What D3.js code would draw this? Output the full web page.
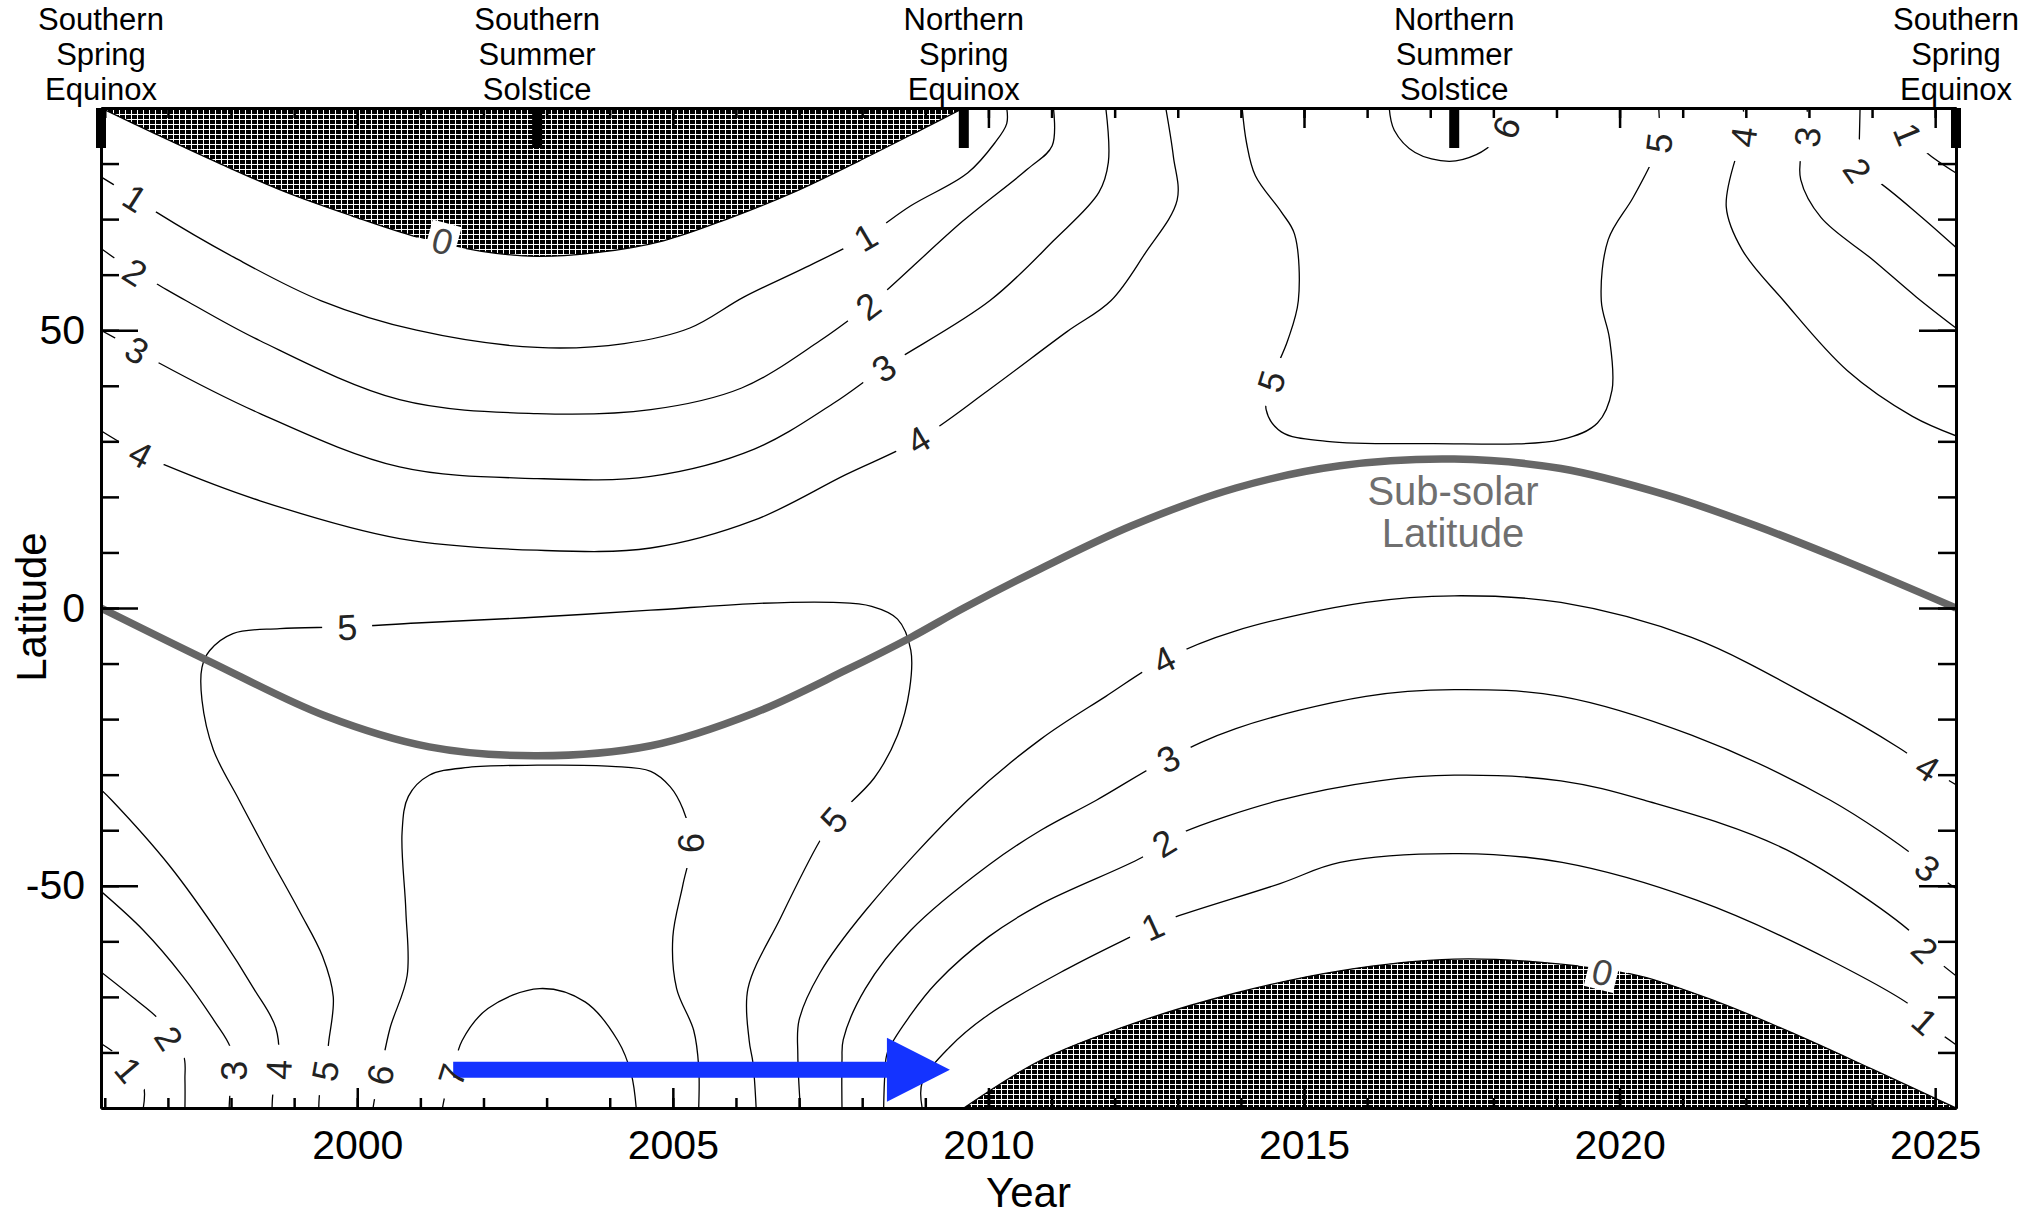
<!DOCTYPE html>
<html>
<head>
<meta charset="utf-8">
<script src="https://cdn.jsdelivr.net/npm/d3@7"></script>
<style>
  body { margin: 0; background: #fff; }
  svg { display: block; font-family: 'Liberation Sans', Arial, Helvetica, sans-serif; }
</style>
</head>
<body>
<svg id="chart"></svg>
<script>
// axes
let yearDomain = [1995.94, 2025.33]
let latDomain = [-90, 90]
let majorYears = [2000, 2005, 2010, 2015, 2020, 2025]
let minorYears = d3.range(1996, 2026)
let majorLats = [-50, 0, 50]
let minorLats = d3.range(-80, 90, 10)

// seasons marked on the top axis
let seasonYears = [1995.94, 2002.85, 2009.61, 2017.38, 2025.33]
let seasonNames = [
  ['Southern', 'Spring', 'Equinox'],
  ['Southern', 'Summer', 'Solstice'],
  ['Northern', 'Spring', 'Equinox'],
  ['Northern', 'Summer', 'Solstice'],
  ['Southern', 'Spring', 'Equinox']
]

// sub-solar latitude
let subsolarYears = [1995.94, 1997.64, 1999.49, 2001.14, 2002.85, 2004.65, 2006.29, 2007.74, 2008.77, 2009.61,
  2010.83, 2012.27, 2013.92, 2015.57, 2017.38, 2019.07, 2020.72, 2022.16, 2023.61, 2025.33]
let subsolarLats = [0, -9.5, -19.4, -25.0, -26.6, -24.8, -18.9, -11.2, -5.3, 0,
  7.1, 14.8, 21.6, 25.6, 26.8, 25.1, 20.4, 14.8, 8.3, 0]

// polar night (level 0), [year, latitude]
let hatchNorth = [[1995.94, 90], [1996.81, 85.3], [1997.84, 79.9], [1998.88, 74.8], [1999.91, 70.6], [2000.94, 66.8],
  [2001.97, 64.2], [2002.85, 63.3], [2003.82, 64.0], [2004.85, 66.1], [2005.88, 70.1], [2006.91, 74.8],
  [2007.94, 80.4], [2008.97, 86.3], [2009.61, 90]]
let hatchSouth = [[2009.61, -90], [2010.83, -81.4], [2012.27, -74.9], [2013.92, -69.3], [2015.57, -65.3],
  [2017.38, -63.2], [2019.07, -64.1], [2020.31, -66.2], [2021.55, -70.9], [2022.78, -76.7], [2024.02, -83.1],
  [2025.33, -90]]

// contour lines, [year, latitude]
let contour1NW = [[1995.94, 77.6], [1996.48, 73.8], [1996.81, 71.3], [1998.05, 63.1], [1999.43, 55.3], [2000.94, 50.0],
  [2002.85, 46.9], [2004.23, 47.6], [2005.27, 50.4], [2006.13, 56.0], [2007.12, 61.4], [2008.05, 66.8],
  [2008.77, 72.4], [2009.67, 78.3], [2010.10, 83.7], [2010.29, 87.2], [2010.29, 90]]
let contour2NW = [[1995.94, 64.7], [1996.48, 60.5], [1996.81, 58.4], [1997.29, 55.3], [1998.46, 48.1], [2000.67, 37.5],
  [2002.85, 35.0], [2004.65, 35.7], [2006.09, 39.6], [2007.33, 48.1], [2008.09, 54.4], [2008.34, 56.7],
  [2009.59, 69.6], [2010.62, 79.0], [2011.01, 83.2], [2011.03, 90]]
let contour3NW = [[1995.94, 50.0], [1996.51, 46.4], [1996.86, 44.1], [1998.46, 35.0], [2000.67, 25.4], [2002.85, 23.3],
  [2004.65, 23.7], [2006.29, 28.6], [2007.54, 36.8], [2008.34, 43.2], [2010.02, 55.3], [2011.03, 66.1],
  [2011.75, 74.8], [2011.90, 80.2], [2011.86, 90]]
let contour4NW = [[1995.94, 31.9], [1996.57, 27.7], [1996.94, 25.8], [1998.46, 19.3], [2000.67, 12.5], [2002.85, 10.4],
  [2004.65, 10.8], [2006.29, 15.8], [2007.74, 24.0], [2008.89, 30.3], [2010.00, 39.2], [2011.24, 49.7],
  [2011.94, 55.3], [2012.48, 63.8], [2012.99, 73.4], [2012.93, 81.3], [2012.81, 90]]
let contour5NE = [[2014.02, 90], [2014.09, 83.7], [2014.23, 77.8], [2014.64, 71.3], [2014.85, 67.3], [2014.91, 55.3],
  [2014.74, 48.1], [2014.48, 40.8], [2014.40, 35.7], [2014.64, 31.7], [2015.36, 30.0], [2017.01, 29.6],
  [2019.07, 30.3], [2019.65, 33.3], [2019.88, 39.2], [2019.84, 48.5], [2019.71, 55.3], [2019.82, 66.3],
  [2020.21, 73.8], [2020.52, 80.6], [2020.62, 83.7], [2020.62, 90]]
let contour6N = [[2016.35, 90], [2016.43, 86.0], [2016.76, 82.0], [2017.30, 80.4], [2017.73, 81.6], [2018.04, 84.1],
  [2018.20, 86.5], [2018.25, 90]]
let contour4NE = [[2021.96, 90], [2021.96, 84.8], [2021.86, 81.8], [2021.69, 72.2], [2021.94, 64.5], [2022.60, 55.3],
  [2023.61, 42.7], [2024.64, 34.5], [2025.33, 31.0]]
let contour3NE = [[2022.97, 90], [2022.97, 84.8], [2022.88, 81.8], [2022.87, 77.1], [2023.19, 70.3], [2024.02, 62.6],
  [2024.70, 56.0], [2025.33, 50.4]]
let contour2NE = [[2023.81, 90], [2023.79, 81.8], [2023.77, 78.8], [2024.10, 76.7], [2024.74, 70.8], [2025.33, 64.9]]
let contour1NE = [[2024.57, 90], [2024.57, 85.3], [2024.86, 82.0], [2025.33, 78.3]]
let contour1SW = [[1995.94, -78.4], [1996.22, -80.7], [1996.38, -83.1], [1996.61, -85.9], [1996.61, -90]]
let contour2SW = [[1995.94, -65.5], [1996.48, -70.4], [1996.90, -74.6], [1997.02, -77.4], [1997.25, -80.7],
  [1997.27, -84.9], [1997.27, -90]]
let contour3SW = [[1995.94, -51.0], [1996.61, -58.0], [1997.23, -66.2], [1997.74, -74.4], [1997.99, -79.1],
  [1998.05, -83.3], [1997.99, -86.8], [1997.97, -90]]
let contour4SW = [[1995.94, -32.7], [1996.11, -34.6], [1997.02, -46.3], [1997.84, -59.2], [1998.36, -68.5],
  [1998.71, -75.6], [1998.75, -83.1], [1998.67, -86.8], [1998.65, -90]]
let contour5S = [[1999.39, -90], [1999.41, -86.8], [1999.49, -83.3], [1999.55, -77.9], [1999.62, -70.0],
  [1999.45, -62.7], [1999.08, -54.5], [1998.57, -44.0], [1998.13, -34.6], [1997.72, -25.5], [1997.54, -16.6],
  [1997.54, -10.7], [1997.66, -7.7], [1998.03, -4.6], [1998.77, -3.7], [1999.84, -3.4], [2000.94, -2.7],
  [2002.59, -1.8], [2004.65, -0.4], [2006.29, 0.8], [2007.54, 1.0], [2008.15, 0.3], [2008.56, -2.0],
  [2008.77, -7.6], [2008.75, -14.7], [2008.56, -22.9], [2008.19, -30.6], [2007.55, -38.1], [2007.33, -41.9],
  [2006.71, -55.7], [2006.19, -68.5], [2006.21, -77.9], [2006.27, -81.9], [2006.32, -90]]
let contour6S = [[2000.25, -90], [2000.30, -86.8], [2000.36, -84.0], [2000.52, -75.6], [2000.79, -66.2],
  [2000.77, -54.5], [2000.71, -40.4], [2000.81, -33.9], [2001.14, -30.1], [2001.76, -28.7], [2002.85, -28.3],
  [2004.03, -28.5], [2004.65, -29.4], [2004.96, -32.2], [2005.16, -36.2], [2005.29, -42.3], [2005.16, -49.8],
  [2005.00, -59.2], [2005.06, -68.5], [2005.33, -76.0], [2005.41, -82.6], [2005.41, -90]]
let contour7S = [[2001.35, -90], [2001.41, -86.8], [2001.50, -84.0], [2001.66, -77.9], [2002.07, -72.1],
  [2002.89, -68.5], [2003.61, -70.9], [2004.13, -77.9], [2004.34, -83.8], [2004.42, -90]]
let contour4S = [[2007.02, -90], [2006.98, -80.3], [2007.00, -74.2], [2007.33, -65.7], [2008.05, -54.5],
  [2009.67, -34.6], [2010.83, -23.6], [2011.86, -15.9], [2012.78, -9.3], [2013.92, -4.1], [2015.98, 1.0],
  [2017.38, 2.2], [2019.07, 1.0], [2021.14, -5.3], [2023.19, -17.0], [2024.43, -25.2], [2024.88, -28.7],
  [2025.33, -31.8]]
let contour3S = [[2007.68, -90], [2007.68, -81.4], [2007.70, -77.7], [2008.05, -68.5], [2008.77, -58.0],
  [2010.00, -46.3], [2010.83, -40.0], [2011.71, -34.6], [2012.85, -27.1], [2013.92, -21.7], [2015.98, -15.9],
  [2017.38, -14.7], [2019.07, -15.9], [2021.14, -22.9], [2023.34, -34.6], [2024.70, -44.9], [2024.88, -46.8],
  [2025.33, -50.5]]
let contour2S = [[2008.34, -90], [2008.36, -83.8], [2008.40, -80.0], [2008.77, -73.2], [2009.18, -67.4],
  [2010.00, -59.2], [2010.83, -53.3], [2012.43, -44.9], [2012.78, -42.3], [2013.08, -40.4], [2014.62, -34.6],
  [2016.19, -31.1], [2017.38, -30.1], [2019.07, -31.1], [2020.39, -34.6], [2022.64, -43.5], [2024.70, -59.2],
  [2024.84, -61.5], [2025.33, -66.2]]
let contour1S = [[2008.95, -90], [2008.95, -85.4], [2009.38, -79.1], [2010.00, -73.2], [2011.24, -65.0],
  [2012.25, -59.2], [2012.60, -57.3], [2012.89, -55.9], [2014.62, -49.6], [2015.57, -45.8], [2017.46, -44.2],
  [2019.09, -45.8], [2021.22, -52.6], [2023.34, -63.4], [2024.70, -72.3], [2024.84, -74.4], [2025.33, -78.6]]

// contour labels: [level, year, latitude]
let contourLabels = [
  [1, 1996.48, 73.8], [2, 1996.48, 60.5], [3, 1996.51, 46.4], [4, 1996.57, 27.7],
  [0, 2001.35, 66.1], [1, 2008.05, 66.8], [2, 2008.09, 54.4], [3, 2008.34, 43.2], [4, 2008.89, 30.3],
  [5, 1999.84, -3.4], [5, 2014.48, 40.8], [6, 2018.20, 86.5], [5, 2020.62, 83.7],
  [4, 2021.96, 84.8], [3, 2022.97, 84.8], [2, 2023.77, 78.8], [1, 2024.57, 85.3],
  [6, 2005.29, -42.3], [5, 2007.55, -38.1],
  [4, 2012.78, -9.3], [3, 2012.85, -27.1], [2, 2012.78, -42.3], [1, 2012.60, -57.3], [0, 2019.73, -65.5],
  [4, 2024.88, -28.7], [3, 2024.88, -46.8], [2, 2024.84, -61.5], [1, 2024.84, -74.4],
  [1, 1996.38, -83.1], [2, 1997.02, -77.4], [3, 1998.05, -83.3], [4, 1998.75, -83.1],
  [5, 1999.49, -83.3], [6, 2000.36, -84.0], [7, 2001.50, -84.0]
]

// blue arrow
let arrowYears = [2001.52, 2009.39]
let arrowLat = -83.1

let contours = [
  {level: 0, points: hatchNorth}, {level: 0, points: hatchSouth},
  {level: 1, points: contour1NW}, {level: 2, points: contour2NW}, {level: 3, points: contour3NW},
  {level: 4, points: contour4NW}, {level: 5, points: contour5NE}, {level: 6, points: contour6N},
  {level: 4, points: contour4NE}, {level: 3, points: contour3NE}, {level: 2, points: contour2NE},
  {level: 1, points: contour1NE}, {level: 1, points: contour1SW}, {level: 2, points: contour2SW},
  {level: 3, points: contour3SW}, {level: 4, points: contour4SW}, {level: 5, points: contour5S},
  {level: 6, points: contour6S}, {level: 7, points: contour7S}, {level: 4, points: contour4S},
  {level: 3, points: contour3S}, {level: 2, points: contour2S}, {level: 1, points: contour1S}
]

let width = 2040
let height = 1215

let x = d3.scaleLinear().domain(yearDomain).range([101, 1956])
let y = d3.scaleLinear().domain(latDomain).range([1108, 108])

let svg = d3.select('#chart').attr('width', width).attr('height', height)
let defs = svg.append('defs')

defs.append('clipPath').attr('id', 'plotClip')
  .append('rect')
  .attr('x', x.range()[0]).attr('y', y.range()[1])
  .attr('width', x.range()[1] - x.range()[0])
  .attr('height', y.range()[0] - y.range()[1])

let pattern = defs.append('pattern')
  .attr('id', 'hatch')
  .attr('patternUnits', 'userSpaceOnUse')
  .attr('width', 6).attr('height', 5)
pattern.append('rect').attr('width', 6).attr('height', 5).attr('fill', '#fff')
pattern.append('rect').attr('width', 5).attr('height', 4).attr('fill', '#000')

let line = d3.line()
  .x(d => x(d[0]))
  .y(d => y(d[1]))
  .curve(d3.curveCatmullRom.alpha(0.5))

// angle of a contour at the label, in screen space
function labelAngle (label) {
  let best = null
  let bestDist = Infinity
  contours.filter(c => c.level === label[0]).forEach(function (c) {
    c.points.forEach(function (p, i) {
      let dist = Math.hypot(x(p[0]) - x(label[1]), y(p[1]) - y(label[2]))
      if (dist < bestDist) {
        bestDist = dist
        best = {pts: c.points, i: i}
      }
    })
  })
  let p0 = best.pts[Math.max(best.i - 1, 0)]
  let p1 = best.pts[Math.min(best.i + 1, best.pts.length - 1)]
  let a = Math.atan2(y(p1[1]) - y(p0[1]), x(p1[0]) - x(p0[0])) * 180 / Math.PI
  if (a > 90) a -= 180
  if (a <= -90) a += 180
  // steep lines read upwards
  if (a > 75) a -= 180
  return a
}

let labels = contourLabels.map(l => ({level: l[0], text: String(l[0]), px: x(l[1]), py: y(l[2]), angle: labelAngle(l)}))

// gaps in the lines under the labels
function labelMask (id, w, h, filter) {
  let m = defs.append('mask')
    .attr('id', id)
    .attr('maskUnits', 'userSpaceOnUse')
    .attr('x', 0).attr('y', 0).attr('width', width).attr('height', height)
  m.append('rect').attr('width', width).attr('height', height).attr('fill', '#fff')
  labels.filter(filter).forEach(function (l) {
    m.append('rect')
      .attr('x', -w / 2).attr('y', -h / 2)
      .attr('width', w).attr('height', h)
      .attr('fill', '#000')
      .attr('transform', `translate(${l.px},${l.py}) rotate(${l.angle})`)
  })
}
labelMask('labelGaps', 50, 38, l => true)
labelMask('nightGaps', 30, 36, l => l.level === 0)

let plot = svg.append('g').attr('clip-path', 'url(#plotClip)')

// polar night hatching
plot.append('g').attr('mask', 'url(#nightGaps)')
  .selectAll('path')
  .data([hatchNorth, hatchSouth])
  .join('path')
  .attr('d', d => line(d) + 'Z')
  .attr('fill', 'url(#hatch)')
  .attr('stroke', 'none')

let lines = plot.append('g').attr('mask', 'url(#labelGaps)')
lines.selectAll('path')
  .data(contours)
  .join('path')
  .attr('d', d => line(d.points))
  .attr('fill', 'none')
  .attr('stroke', '#000')
  .attr('stroke-width', 1.3)

// sub-solar latitude
let subsolar = subsolarYears.map((d, i) => [d, subsolarLats[i]])
plot.append('path')
  .attr('d', line(subsolar))
  .attr('fill', 'none')
  .attr('stroke', '#666')
  .attr('stroke-width', 7.5)

// arrow
{
  let x0 = x(arrowYears[0])
  let x1 = x(arrowYears[1])
  let ya = y(arrowLat)
  let head = 63
  svg.append('path')
    .attr('d', `M${x0},${ya - 8}L${x1 - head},${ya - 8}L${x1 - head},${ya - 32}L${x1},${ya}` +
      `L${x1 - head},${ya + 32}L${x1 - head},${ya + 8}L${x0},${ya + 8}Z`)
    .attr('fill', '#1433ff')
}

// contour labels
svg.append('g')
  .selectAll('text')
  .data(labels)
  .join('text')
  .attr('transform', d => `translate(${d.px},${d.py}) rotate(${d.angle})`)
  .attr('text-anchor', 'middle')
  .attr('dy', '0.36em')
  .attr('font-size', 36)
  .attr('fill', d => d.level === 0 ? '#444' : '#222')
  .text(d => d.text)

svg.append('text')
  .attr('x', 1453).attr('y', 505)
  .attr('text-anchor', 'middle')
  .attr('font-size', 40)
  .attr('fill', '#6f6f6f')
  .call(t => t.append('tspan').attr('x', 1453).text('Sub-solar'))
  .call(t => t.append('tspan').attr('x', 1453).attr('dy', 42).text('Latitude'))

// axes
function styleAxis (g) {
  g.selectAll('path').attr('stroke', '#000').attr('stroke-width', 3)
  g.selectAll('line').attr('stroke', '#000').attr('stroke-width', 2.5)
  g.selectAll('text').attr('font-size', 41).attr('fill', '#000')
    .attr('font-family', "'Liberation Sans', Arial, Helvetica, sans-serif")
}

let yBottom = y.range()[0]
let yTop = y.range()[1]
let xLeft = x.range()[0]
let xRight = x.range()[1]

svg.append('g').attr('transform', `translate(0,${yBottom})`)
  .call(d3.axisBottom(x).tickValues(minorYears).tickSize(-10).tickSizeOuter(0).tickFormat(''))
  .call(styleAxis)
svg.append('g').attr('transform', `translate(0,${yBottom})`)
  .call(d3.axisBottom(x).tickValues(majorYears).tickSize(-20).tickSizeOuter(0).tickPadding(22).tickFormat(d => String(d)))
  .call(styleAxis)
svg.append('g').attr('transform', `translate(0,${yTop})`)
  .call(d3.axisTop(x).tickValues(minorYears).tickSize(-10).tickSizeOuter(0).tickFormat(''))
  .call(styleAxis)
svg.append('g').attr('transform', `translate(0,${yTop})`)
  .call(d3.axisTop(x).tickValues(majorYears).tickSize(-20).tickSizeOuter(0).tickFormat(''))
  .call(styleAxis)
svg.append('g').attr('transform', `translate(${xLeft},0)`)
  .call(d3.axisLeft(y).tickValues(minorLats).tickSize(-18).tickSizeOuter(0).tickFormat(''))
  .call(styleAxis)
svg.append('g').attr('transform', `translate(${xLeft},0)`)
  .call(d3.axisLeft(y).tickValues(majorLats).tickSize(-37).tickSizeOuter(0).tickPadding(16).tickFormat(d => String(d)))
  .call(styleAxis)
svg.append('g').attr('transform', `translate(${xRight},0)`)
  .call(d3.axisRight(y).tickValues(minorLats).tickSize(-18).tickSizeOuter(0).tickFormat(''))
  .call(styleAxis)
svg.append('g').attr('transform', `translate(${xRight},0)`)
  .call(d3.axisRight(y).tickValues(majorLats).tickSize(-37).tickSizeOuter(0).tickFormat(''))
  .call(styleAxis)

// season markers and names
svg.selectAll('rect.season')
  .data(seasonYears)
  .join('rect')
  .attr('class', 'season')
  .attr('x', d => x(d) - 5)
  .attr('y', yTop)
  .attr('width', 10)
  .attr('height', 40)
  .attr('fill', '#000')

svg.selectAll('text.season')
  .data(seasonYears)
  .join('text')
  .attr('class', 'season')
  .attr('y', 30)
  .attr('text-anchor', 'middle')
  .attr('font-size', 31)
  .attr('fill', '#000')
  .each(function (yr, i) {
    let t = d3.select(this)
    seasonNames[i].forEach(function (name, j) {
      t.append('tspan')
        .attr('x', x(yr))
        .attr('dy', j === 0 ? 0 : 35)
        .text(name)
    })
  })

svg.append('text')
  .attr('transform', 'translate(46,607) rotate(-90)')
  .attr('text-anchor', 'middle')
  .attr('font-size', 42)
  .text('Latitude')

svg.append('text')
  .attr('x', (xLeft + xRight) / 2)
  .attr('y', 1207)
  .attr('text-anchor', 'middle')
  .attr('font-size', 42)
  .text('Year')
</script>
</body>
</html>
